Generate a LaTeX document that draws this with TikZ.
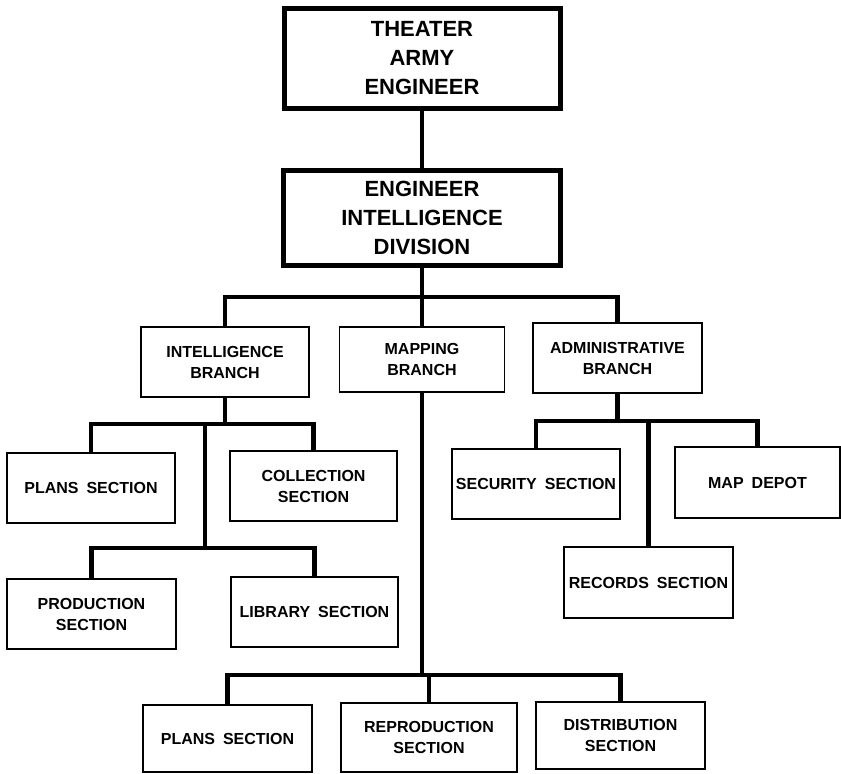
\documentclass[tikz,border=0pt]{standalone}
\usepackage{fontspec}
\setmainfont{Liberation Sans}
\usetikzlibrary{positioning}
\tikzset{>=latex}
\newcommand{\wgap}{\hspace{0.5em}}

\begin{document}
\begin{tikzpicture}[x=1pt, y=-1pt,
	unit/.style={draw, line width=1.8pt, align=center, inner sep=0pt, font=\fontsize{16}{21}\selectfont\bfseries},
	head/.style={draw, line width=5pt, align=center, inner sep=0pt, font=\fontsize{22}{29}\selectfont\bfseries},
	link/.style={line width=4.5pt}]
	\useasboundingbox (0,0) rectangle (841,774);

	% top of the chart
	\node[head,minimum width=276pt,minimum height=100pt] (tae) at (422,58) {THEATER\\ARMY\\ENGINEER};
	\node[head,minimum width=277pt,minimum height=95pt] (eid) at (422,217.5) {ENGINEER\\INTELLIGENCE\\DIVISION};

	% branches
	\node[unit,minimum width=168pt,minimum height=70pt] (ibr) at (225,362) {INTELLIGENCE\\BRANCH};
	\node[unit,minimum width=165pt,minimum height=65pt] (mbr) at (422,359.5) {MAPPING\\BRANCH};
	\node[unit,minimum width=169pt,minimum height=70pt] (abr) at (617.5,358) {ADMINISTRATIVE\\BRANCH};

	% intelligence sections
	\node[unit,minimum width=168pt,minimum height=70pt] (iplans) at (91,488) {PLANS\wgap SECTION};
	\node[unit,minimum width=167pt,minimum height=70pt] (icoll) at (313.5,486) {COLLECTION\\SECTION};
	\node[unit,minimum width=169pt,minimum height=70pt] (iprod) at (91.5,614) {PRODUCTION\\SECTION};
	\node[unit,minimum width=167pt,minimum height=70pt] (ilib) at (314.5,612) {LIBRARY\wgap SECTION};

	% administrative sections
	\node[unit,minimum width=168pt,minimum height=70pt] (asec) at (536,484) {SECURITY\wgap SECTION};
	\node[unit,minimum width=165pt,minimum height=71pt] (adepot) at (757.5,482.5) {MAP\wgap DEPOT};
	\node[unit,minimum width=169pt,minimum height=71pt] (arec) at (648.5,582.5) {RECORDS\wgap SECTION};

	% mapping sections
	\node[unit,minimum width=169pt,minimum height=67pt] (mplans) at (227.5,738.5) {PLANS\wgap SECTION};
	\node[unit,minimum width=176pt,minimum height=69pt] (mrepro) at (429,737.5) {REPRODUCTION\\SECTION};
	\node[unit,minimum width=169pt,minimum height=67pt] (mdist) at (620.5,735.5) {DISTRIBUTION\\SECTION};

	% levels of the horizontal bars
	\coordinate (barb) at (0,297);
	\coordinate (bari) at (0,424);
	\coordinate (barp) at (0,548);
	\coordinate (bara) at (0,421);
	\coordinate (barm) at (0,675);
	\coordinate (spinei) at (205,0);

	% connectors
	\draw[link] (tae.south) -- (eid.south |- tae.south) -- (eid.north);
	\draw[link] (eid.south) -- (mbr.north);
	\draw[link] (ibr.north) -- (ibr.north |- barb) -- (abr.north |- barb) -- (abr.north);

	\draw[link] (ibr.south) -- (ibr.south |- bari);
	\draw[link] (iplans.north) -- (iplans.north |- bari) -- (icoll.north |- bari) -- (icoll.north);
	\draw[link] (spinei |- bari) -- (spinei |- barp);
	\draw[link] (iprod.north) -- (iprod.north |- barp) -- (ilib.north |- barp) -- (ilib.north);

	\draw[link] (abr.south) -- (abr.south |- bara);
	\draw[link] (asec.north) -- (asec.north |- bara) -- (adepot.north |- bara) -- (adepot.north);
	\draw[link] (arec.north |- bara) -- (arec.north);

	\draw[link] (mbr.south) -- (mbr.south |- barm);
	\draw[link] (mplans.north) -- (mplans.north |- barm) -- (mdist.north |- barm) -- (mdist.north);
	\draw[link] (mrepro.north |- barm) -- (mrepro.north);
\end{tikzpicture}
\end{document}
